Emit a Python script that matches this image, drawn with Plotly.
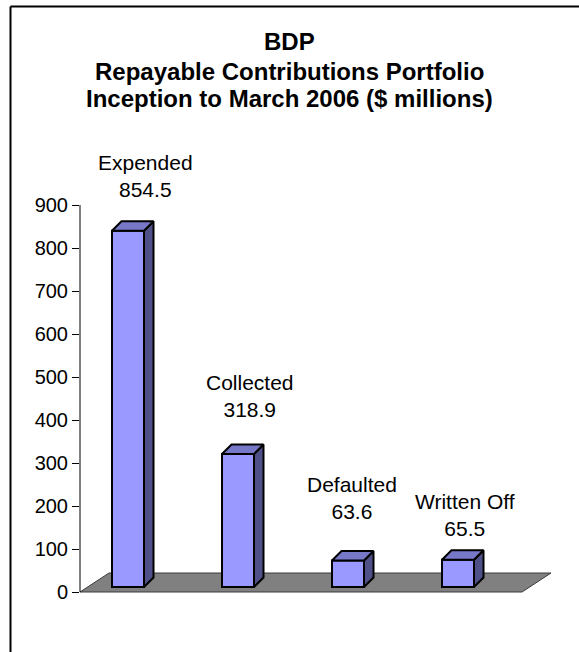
import plotly.graph_objects as go

# Portfolio figures, inception to March 2006 ($ millions)
categories = ["Expended", "Collected", "Defaulted", "Written Off"]
values = [854.5, 318.9, 63.6, 65.5]
tick_values = [0, 100, 200, 300, 400, 500, 600, 700, 800, 900]
title_lines = ["BDP", "Repayable Contributions Portfolio",
               "Inception to March 2006 ($ millions)"]

# ---- page geometry (pixels) ----
W, H = 579, 652
PLOT_L, PLOT_R, PLOT_T, PLOT_B = 80, 560, 150, 620
FONT = "Liberation Sans, Arial, sans-serif"

# value axis: 0 at y=592, 43 px per 100
AX_ZERO, AX_SCALE = 592, 0.43
# bars stand a little behind the front edge of the floor, so their plane
# has its own (slightly flatter) value scale
BAR_ZERO, BAR_SCALE = 587, 0.417
# category positions: 110 px apart, first bar centred at x=128
X_STEP, X_FIRST = 110.0, 128.0

x_min = -(X_FIRST - PLOT_L) / X_STEP
x_max = x_min + (PLOT_R - PLOT_L) / X_STEP
y_rng = [-(PLOT_B - AX_ZERO) / AX_SCALE, (AX_ZERO - PLOT_T) / AX_SCALE]
y2_rng = [-(PLOT_B - BAR_ZERO) / BAR_SCALE, (BAR_ZERO - PLOT_T) / BAR_SCALE]

def px_x(px):
    return (px - PLOT_L) / (PLOT_R - PLOT_L)

def px_y(py):
    return (PLOT_B - py) / (PLOT_B - PLOT_T)

bar_w = 32 / X_STEP
depth_x = 9.5 / X_STEP
depth_y = 9.5 / BAR_SCALE

FRONT = "#9999FF"
TOP = "#7878C8"
SIDE = "#505088"

xs = list(range(len(categories)))
fig = go.Figure()

# front faces
fig.add_trace(go.Bar(
    x=xs, y=values, base=0, width=bar_w, yaxis="y2",
    marker=dict(color=FRONT, line=dict(color="black", width=2)),
    hoverinfo="skip",
))

# top and side faces of each bar
for x, v in zip(xs, values):
    x0, x1 = x - bar_w / 2, x + bar_w / 2
    fig.add_trace(go.Scatter(
        x=[x1, x1, x1 + depth_x, x1 + depth_x, x1],
        y=[0, v, v + depth_y, depth_y, 0],
        yaxis="y2", mode="lines", fill="toself", fillcolor=SIDE,
        line=dict(color="black", width=2), hoverinfo="skip",
    ))
    fig.add_trace(go.Scatter(
        x=[x0, x1, x1 + depth_x, x0 + depth_x, x0],
        y=[v, v, v + depth_y, v + depth_y, v],
        yaxis="y2", mode="lines", fill="toself", fillcolor=TOP,
        line=dict(color="black", width=2), hoverinfo="skip",
    ))

# floor of the 3-D plot
floor_fx0 = x_min
floor_fx1 = (522 - PLOT_L) / X_STEP + x_min
floor_dx = 29 / X_STEP
floor_dy = (AX_ZERO - 573) / AX_SCALE
shapes = [
    dict(type="path", xref="x", yref="y", layer="below",
         path=(f"M {floor_fx0},0 L {floor_fx1},0 "
               f"L {floor_fx1 + floor_dx},{floor_dy} "
               f"L {floor_fx0 + floor_dx},{floor_dy} Z"),
         fillcolor="#808080", line=dict(color="#3A3A3A", width=1)),
    # value axis line
    dict(type="line", xref="paper", yref="y", x0=0, x1=0, y0=0, y1=900,
         line=dict(color="black", width=1)),
    # chart frame: top and left edges (the rest runs off the page)
    dict(type="line", xref="paper", yref="paper",
         x0=px_x(10.5), x1=px_x(W), y0=px_y(6.5), y1=px_y(6.5),
         line=dict(color="black", width=2)),
    dict(type="line", xref="paper", yref="paper",
         x0=px_x(10.5), x1=px_x(10.5), y0=px_y(6.5), y1=px_y(H),
         line=dict(color="black", width=2)),
]

annotations = []
# title
for line, py in zip(title_lines, [42, 71, 99]):
    annotations.append(dict(
        text=f"<b>{line}</b>", xref="paper", yref="paper",
        x=px_x(289), y=px_y(py), xanchor="center", yanchor="middle",
        showarrow=False, font=dict(family=FONT, size=24, color="black"),
    ))

# data labels above each bar
label_shift = [(17, 55), (12, 58), (4, 62), (7, 45)]
for x, cat, v, (dxs, dys) in zip(xs, categories, values, label_shift):
    annotations.append(dict(
        text=f"{cat}<br>{v:.1f}", x=x, y=v, xref="x", yref="y2",
        xanchor="center", yanchor="middle", xshift=dxs, yshift=dys,
        showarrow=False, font=dict(family=FONT, size=21, color="black"),
    ))

fig.update_layout(
    width=W, height=H,
    margin=dict(l=PLOT_L, r=W - PLOT_R, t=PLOT_T, b=H - PLOT_B, pad=0),
    paper_bgcolor="white", plot_bgcolor="white",
    showlegend=False, hovermode=False,
    xaxis=dict(range=[x_min, x_max], visible=False, fixedrange=True),
    yaxis=dict(range=y_rng, tickvals=tick_values, ticks="outside",
               ticklen=7, tickcolor="black", tickwidth=1,
               showgrid=False, zeroline=False, showline=False,
               tickfont=dict(family=FONT, size=20, color="black"),
               fixedrange=True),
    yaxis2=dict(range=y2_rng, overlaying="y", visible=False,
                fixedrange=True),
    shapes=shapes, annotations=annotations,
)

fig.write_html("out.html")
